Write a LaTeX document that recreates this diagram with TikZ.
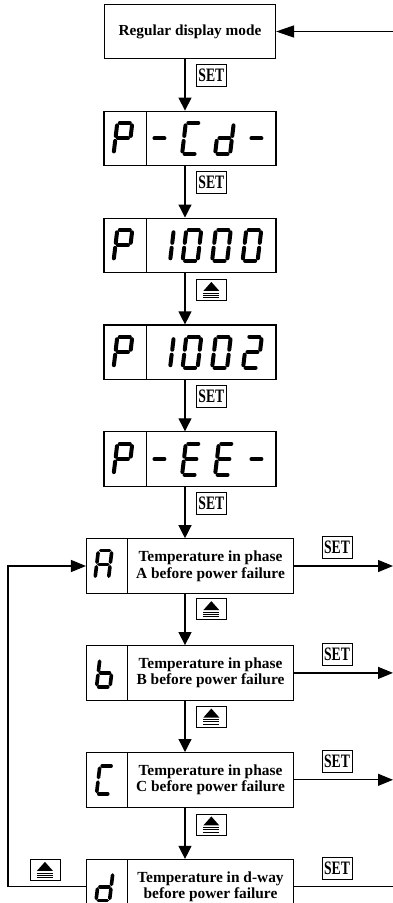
\documentclass[tikz,border=0pt]{standalone}
\usepackage{fontspec}
\setmainfont{Liberation Serif}
\usepackage{graphicx}
\usetikzlibrary{positioning, calc, arrows.meta}

% seven segment digit: segments a-g
\newcommand{\sga}{(-5,-15.5) -- (5,-15.5)}
\newcommand{\sgb}{(7.5,-13) -- (7.5,-2.5)}
\newcommand{\sgc}{(7.5,2.5) -- (7.5,13)}
\newcommand{\sgd}{(-5,15.5) -- (5,15.5)}
\newcommand{\sge}{(-7.5,2.5) -- (-7.5,13)}
\newcommand{\sgf}{(-7.5,-13) -- (-7.5,-2.5)}
\newcommand{\sgg}{(-5,0) -- (5,0)}
\newcommand{\sevenseg}[4][]{%
  \begin{scope}[shift={(#2)}, xslant=0.12, scale=#3]
    \foreach \sname in {#4} {\draw[seg, #1] \csname sg\sname\endcsname;}
  \end{scope}}

\begin{document}
\begin{tikzpicture}[x=1pt, y=-1pt,
  node distance=51.3pt,
  box/.style={draw, line width=1.1pt, minimum height=54.5pt, inner sep=0pt},
  regbox/.style={box, minimum width=171pt, font=\fontsize{15.3}{17}\selectfont\bfseries},
  split/.style={path picture={\draw[line width=1pt]
      ([xshift=#1]path picture bounding box.north west) --
      ([xshift=#1]path picture bounding box.south west);}},
  disp/.style={box, minimum width=172pt, split=42pt},
  phase/.style={box, minimum width=207pt, split=41pt},
  ptxt/.style={align=center, inner sep=0pt, font=\fontsize{15.4}{16.7}\selectfont\bfseries},
  seg/.style={line width=4pt, line cap=round},
  setkey/.style={draw, line width=0.7pt, minimum width=30pt, minimum height=22pt,
                 inner sep=0pt, font=\fontsize{19}{19}\selectfont\bfseries},
  upkey/.style={draw, line width=0.7pt, minimum width=30pt, minimum height=21pt,
                inner sep=0pt, path picture={
      \fill ($(path picture bounding box.center)+(0,-8)$) --
            ($(path picture bounding box.center)+(8,1)$) --
            ($(path picture bounding box.center)+(-8,1)$) -- cycle;
      \foreach \yy in {3,5.2,7.4}
        \draw[line width=0.7pt] ($(path picture bounding box.center)+(-8,\yy)$) -- ++(16,0);}},
  arr/.style={line width=1.2pt, -{Triangle[length=13pt, width=13pt]}},
  harr/.style={line width=1.2pt, -{Triangle[length=15pt, width=12pt]}}
]
  \useasboundingbox (0,0) rectangle (393,903);
  \coordinate (rim) at (393,0);
  \coordinate (lp) at (8,0);

  \node[regbox] (reg) at (190,31.5) {Regular display mode};
  \node[disp, below=of reg] (cd) {};
  \node[disp, below=of cd] (n1000) {};
  \node[disp, below=of n1000] (n1002) {};
  \node[disp, below=of n1002] (ee) {};
  \node[phase, below=of ee] (pa) {};
  \node[phase, below=of pa] (pb) {};
  \node[phase, below=of pb] (pc) {};
  \node[phase, below=of pc] (pd) {};

  \node[ptxt] (ta) at ([xshift=20.5pt]pa.center) {Temperature in phase\\A before power failure};
  \node[ptxt] (tb) at ([xshift=20.5pt]pb.center) {Temperature in phase\\B before power failure};
  \node[ptxt] (tc) at ([xshift=20.5pt]pc.center) {Temperature in phase\\C before power failure};
  \node[ptxt] (td) at ([xshift=20.5pt]pd.center) {Temperature in d-way\\before power failure};

  % P -Cd-
  \sevenseg{$(cd.west)+(19.5,0)$}{1}{a,b,f,g,e}
  \sevenseg{$(cd.west)+(56,0)$}{1}{g}
  \sevenseg{$(cd.west)+(88,0)$}{1}{a,f,e,d}
  \sevenseg{$(cd.west)+(121,0)$}{1}{b,c,d,e,g}
  \sevenseg{$(cd.west)+(153,0)$}{1}{g}
  % P 1000
  \sevenseg{$(n1000.west)+(19.5,0)$}{1}{a,b,f,g,e}
  \sevenseg{$(n1000.west)+(61,0)$}{1}{b,c}
  \sevenseg{$(n1000.west)+(88.5,0)$}{1}{a,b,c,d,e,f}
  \sevenseg{$(n1000.west)+(118,0)$}{1}{a,b,c,d,e,f}
  \sevenseg{$(n1000.west)+(148.5,0)$}{1}{a,b,c,d,e,f}
  % P 1002
  \sevenseg{$(n1002.west)+(19.5,0)$}{1}{a,b,f,g,e}
  \sevenseg{$(n1002.west)+(61,0)$}{1}{b,c}
  \sevenseg{$(n1002.west)+(88.5,0)$}{1}{a,b,c,d,e,f}
  \sevenseg{$(n1002.west)+(118,0)$}{1}{a,b,c,d,e,f}
  \sevenseg{$(n1002.west)+(149,0)$}{1}{a,b,g,e,d}
  % P -EE-
  \sevenseg{$(ee.west)+(19.5,0)$}{1}{a,b,f,g,e}
  \sevenseg{$(ee.west)+(56,0)$}{1}{g}
  \sevenseg{$(ee.west)+(88,0)$}{1}{a,f,g,e,d}
  \sevenseg{$(ee.west)+(121,0)$}{1}{a,f,g,e,d}
  \sevenseg{$(ee.west)+(153,0)$}{1}{g}
  % phases
  \sevenseg[line width=3.6pt]{$(pa.west)+(17.5,-1.5)$}{0.9}{a,b,c,e,f,g}
  \sevenseg[line width=3.6pt]{$(pb.west)+(19,0)$}{0.9}{c,d,e,f,g}
  \sevenseg[line width=3.6pt]{$(pc.west)+(19,0)$}{0.9}{a,f,e,d}
  \sevenseg[line width=3.6pt]{$(pd.west)+(18.5,0)$}{0.9}{b,c,d,e,g}

  \draw[arr] ([xshift=-5pt]reg.south) -- ([xshift=-5pt]cd.north);
  \draw[arr] ([xshift=-5pt]cd.south) -- ([xshift=-5pt]n1000.north);
  \draw[arr] ([xshift=-5pt]n1000.south) -- ([xshift=-5pt]n1002.north);
  \draw[arr] ([xshift=-5pt]n1002.south) -- ([xshift=-5pt]ee.north);
  \draw[arr] ([xshift=-5pt]ee.south) -- ([xshift=-5pt]pa.north);
  \draw[arr] ([xshift=-5pt]pa.south) -- ([xshift=-5pt]pb.north);
  \draw[arr] ([xshift=-5pt]pb.south) -- ([xshift=-5pt]pc.north);
  \draw[arr] ([xshift=-5pt]pc.south) -- ([xshift=-5pt]pd.north);

  \node[setkey, anchor=north west] (k1) at ($(reg.south)+(6,5)$) {\scalebox{0.72}[1]{SET}};
  \node[setkey, anchor=north west] (k2) at ($(cd.south)+(6,5)$) {\scalebox{0.72}[1]{SET}};
  \node[upkey, anchor=north west] (k3) at ($(n1000.south)+(6,6)$) {};
  \node[setkey, anchor=north west] (k4) at ($(n1002.south)+(6,5)$) {\scalebox{0.72}[1]{SET}};
  \node[setkey, anchor=north west] (k5) at ($(ee.south)+(6,5)$) {\scalebox{0.72}[1]{SET}};
  \node[upkey, anchor=north west] (k6) at ($(pa.south)+(6,4.5)$) {};
  \node[upkey, anchor=north west] (k7) at ($(pb.south)+(6,5)$) {};
  \node[upkey, anchor=north west] (k8) at ($(pc.south)+(6,6)$) {};

  % exits to the right
  \draw[line width=1.2pt, -{Triangle[length=18pt, width=12pt]}] (reg.east -| rim) -- (reg.east);
  \draw[harr] (pa.east) -- (pa.east -| rim);
  \draw[harr] (pb.east) -- (pb.east -| rim);
  \draw[harr] (pc.east) -- (pc.east -| rim);
  \draw[line width=1.2pt] (pd.east) -- (pd.east -| rim);
  \node[setkey, anchor=south] (sa) at ($(pa.east)+(43,-7)$) {\scalebox{0.72}[1]{SET}};
  \node[setkey, anchor=south] (sb) at ($(pb.east)+(43,-7)$) {\scalebox{0.72}[1]{SET}};
  \node[setkey, anchor=south] (sc) at ($(pc.east)+(43,-7)$) {\scalebox{0.72}[1]{SET}};
  \node[setkey, anchor=south] (sd) at ($(pd.east)+(43,-7)$) {\scalebox{0.72}[1]{SET}};

  % loop back to A
  \draw[harr] (pd.west) -- (pd.west -| lp) |- (pa.west);
  \node[upkey, anchor=south] (kl) at ($(pd.west)+(-41,-6)$) {};
\end{tikzpicture}
\end{document}
